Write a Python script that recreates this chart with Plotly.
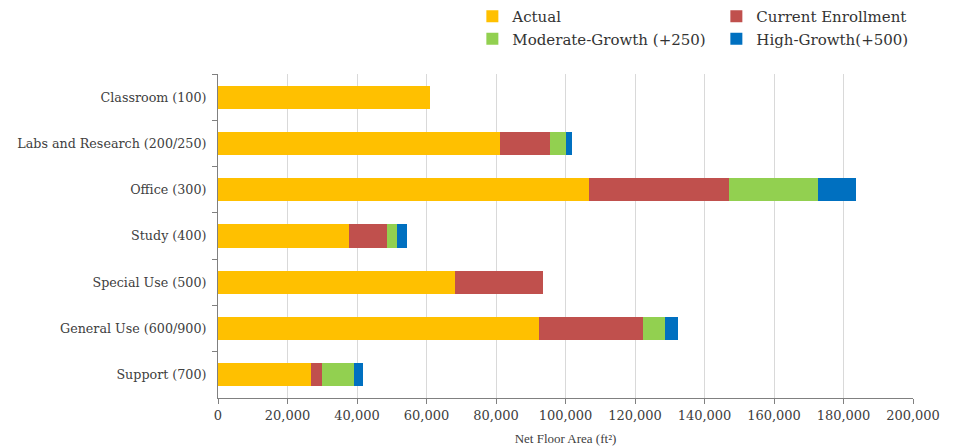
import plotly.graph_objects as go

categories = ["Classroom (100)", "Labs and Research (200/250)", "Office (300)", "Study (400)",
              "Special Use (500)", "General Use (600/900)", "Support (700)"]
actual = [61000, 81200, 106700, 37600, 68300, 92300, 26900]
current_enrollment = [0, 14400, 40300, 11100, 25100, 29900, 2900]
moderate_growth = [0, 4600, 25700, 2800, 0, 6500, 9200]
high_growth = [0, 1700, 11000, 2900, 0, 3600, 2700]

series = [
    ("Actual", actual, "#FFC000"),
    ("Current Enrollment", current_enrollment, "#C0504D"),
    ("Moderate-Growth (+250)", moderate_growth, "#92D050"),
    ("High-Growth(+500)", high_growth, "#0070C0"),
]

FONT = "DejaVu Serif"

fig = go.Figure()
for name, vals, color in series:
    fig.add_trace(go.Bar(y=categories, x=vals, name=name, orientation="h",
                         marker=dict(color=color, line=dict(width=0)), width=0.5))

fig.update_layout(
    barmode="stack",
    width=964, height=446,
    margin=dict(l=218, r=51, t=74, b=48),
    paper_bgcolor="white", plot_bgcolor="white",
    font=dict(family=FONT, size=13, color="#404040"),
    legend=dict(orientation="h", x=0.490, y=1.0, xanchor="left", yanchor="top",
                xref="container", yref="container", entrywidth=199, traceorder="normal",
                font=dict(size=15, color="#333333"), itemwidth=30),
    showlegend=True,
    xaxis=dict(range=[0, 200000], tickvals=list(range(0, 200001, 20000)),
               tickformat=",d", showgrid=True, gridcolor="#D9D9D9", gridwidth=1,
               zeroline=False, showline=True, linecolor="#808080", linewidth=1,
               ticks="outside", ticklen=5, tickcolor="#808080", automargin=False,
               tickfont=dict(size=13, color="#404040"),
               title=dict(text="Net Floor Area (ft²)", font=dict(family="Liberation Serif", size=13, color="#404040"), standoff=17)),
    yaxis=dict(autorange="reversed", showline=True, linecolor="#808080", linewidth=1,
               ticks="outside", ticklen=5, tickcolor="#808080", tickson="boundaries",
               ticklabelstandoff=8, automargin=False,
               showgrid=False, tickfont=dict(size=12.7, color="#404040")),
)

fig.write_html("out.html")
